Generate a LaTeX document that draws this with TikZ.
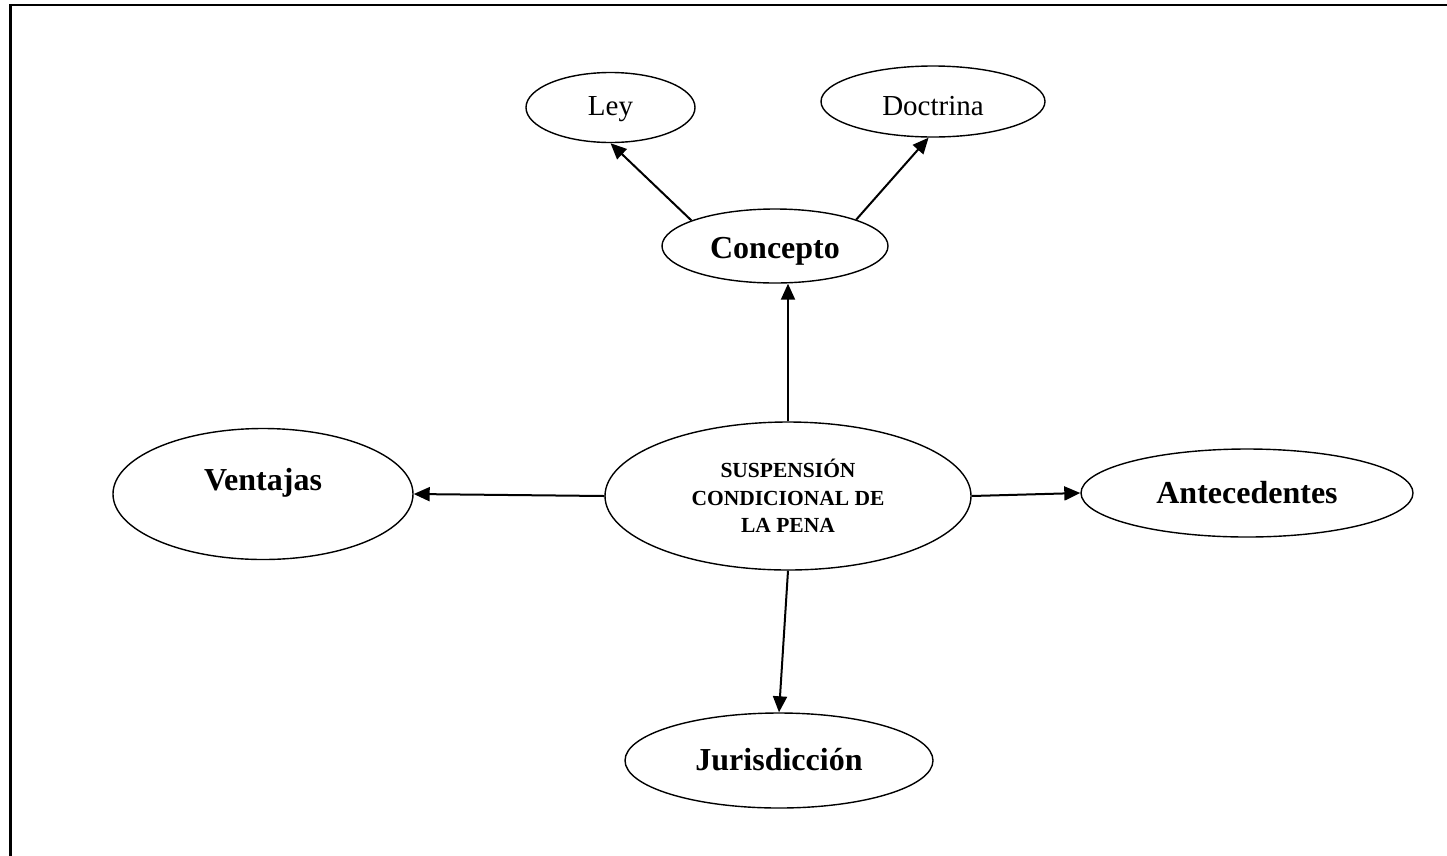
\documentclass[tikz,border=0pt]{standalone}
\usepackage{fontspec}
\setmainfont{Liberation Serif}
\usetikzlibrary{shapes.geometric,arrows.meta}
\begin{document}
\begin{tikzpicture}
[x=1pt, y=-1pt,
 bubble/.style={draw, ellipse, line width=1.4pt, inner sep=0pt},
 link/.style={line width=2pt, -{Triangle[length=16pt,width=14pt]}},
 big/.style={font=\fontsize{32}{36}\selectfont\bfseries, text height=0pt, text depth=0pt},
 small/.style={font=\fontsize{29}{33}\selectfont, text height=0pt, text depth=0pt}]
\useasboundingbox (0,0) rectangle (1447,855);
\draw[line width=2.5pt] (10.5,870) -- (10.5,5) -- (1460,5);
% centre
\node[bubble, minimum width=366pt, minimum height=148pt,
  label={[align=center, font=\fontsize{21.5}{27.5}\selectfont\bfseries]center:SUSPENSIÓN\\CONDICIONAL DE\\LA PENA}] (pena) at (788,496) {};
% branches
\node[bubble, minimum width=226pt, minimum height=74pt,
  label={[big, yshift=-12pt]center:Concepto}] (concepto) at (775,246) {};
\node[bubble, minimum width=169pt, minimum height=70pt,
  label={[small, yshift=-7.5pt]center:Ley}] (ley) at (610.5,107.5) {};
\node[bubble, minimum width=224pt, minimum height=71pt,
  label={[small, yshift=-13.5pt]center:Doctrina}] (doctrina) at (933,101.5) {};
\node[bubble, minimum width=300pt, minimum height=131pt,
  label={[big, yshift=4pt]center:Ventajas}] (ventajas) at (263,494) {};
\node[bubble, minimum width=332pt, minimum height=88pt,
  label={[big, yshift=-10pt]center:Antecedentes}] (antecedentes) at (1247,493) {};
\node[bubble, minimum width=308pt, minimum height=95pt,
  label={[big, yshift=-9.5pt]center:Jurisdicción}] (jurisdiccion) at (779,760.5) {};
% arrows
\draw[link] (pena.west) -- (ventajas.east);
\draw[link] (pena.east) -- (antecedentes.west);
\draw[link] (pena.south) -- (jurisdiccion.north);
\draw[link] (pena.north) -- (pena.north |- concepto.south);
\draw[link] (concepto.163) -- (ley.south);
\draw[link] (concepto.18) -- (doctrina.-97);
\end{tikzpicture}
\end{document}
